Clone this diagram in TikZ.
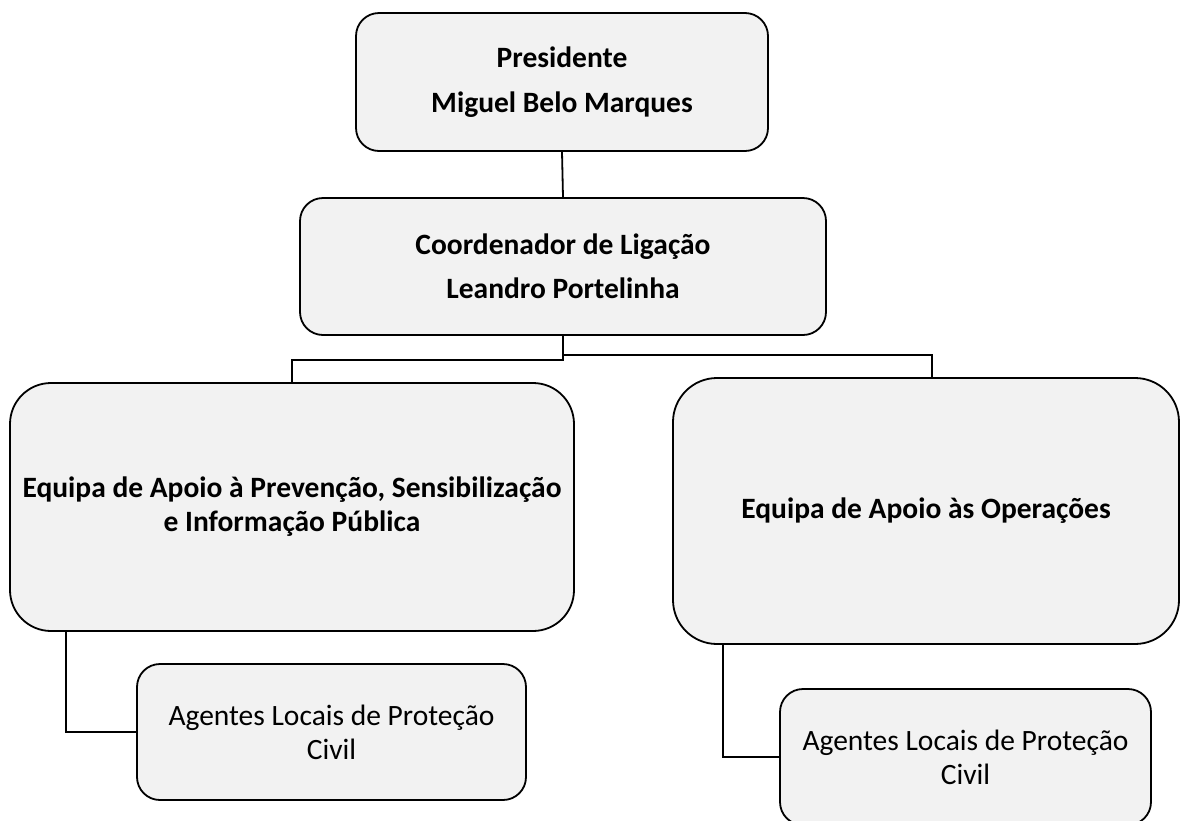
\documentclass[tikz,border=0pt]{standalone}
\usepackage{fontspec}
\setmainfont{Carlito}
\usetikzlibrary{positioning, calc}
\definecolor{cinza}{HTML}{F2F2F2}

\begin{document}
\begin{tikzpicture}[x=1pt,y=-1pt,
  caixa/.style={draw=black,line width=1.8pt,fill=cinza,rounded corners=23pt,align=center,inner sep=0pt,
    font={\fontsize{29.5}{34}\selectfont}},
  liga/.style={line width=1.8pt}]
\useasboundingbox (0,0) rectangle (1181,820);
% Presidente e coordenador
\node[caixa,minimum width=412pt,minimum height=138pt](org_0) at (562,82) {\textbf{Presidente}\\[11pt]\textbf{Miguel Belo Marques}};
\node[caixa,minimum width=526pt,minimum height=137pt](org_1) at (563,266.5) {\textbf{Coordenador de Ligação}\\[10pt]\textbf{Leandro Portelinha}};
% Equipas
\node[caixa,rounded corners=41pt,minimum width=564pt,minimum height=248pt](org_2) at (292,507) {\textbf{Equipa de Apoio à Prevenção, Sensibilização}\\\textbf{e Informação Pública}};
\node[caixa,rounded corners=44pt,minimum width=506pt,minimum height=266pt](org_3) at (926,511) {\textbf{Equipa de Apoio às Operações}};
% Agentes
\node[caixa,minimum width=389pt,minimum height=136pt](org_4) at (331.5,732) {Agentes Locais de Proteção\\Civil};
\node[caixa,minimum width=371pt,minimum height=136pt](org_5) at (965.5,757) {Agentes Locais de Proteção\\Civil};
% Ligacoes
\draw[liga] (org_0.south) -- (org_1.north);
\draw[liga] (org_1.south) -- ++(0,24) -| (org_2.north);
\draw[liga] (org_1.south) -- ++(0,19) -| ([xshift=6pt]org_3.north);
\draw[liga] ([xshift=57pt]org_2.south west) |- (org_4.west);
\draw[liga] ([xshift=51pt]org_3.south west) |- (org_5.west);
\end{tikzpicture}
\end{document}
